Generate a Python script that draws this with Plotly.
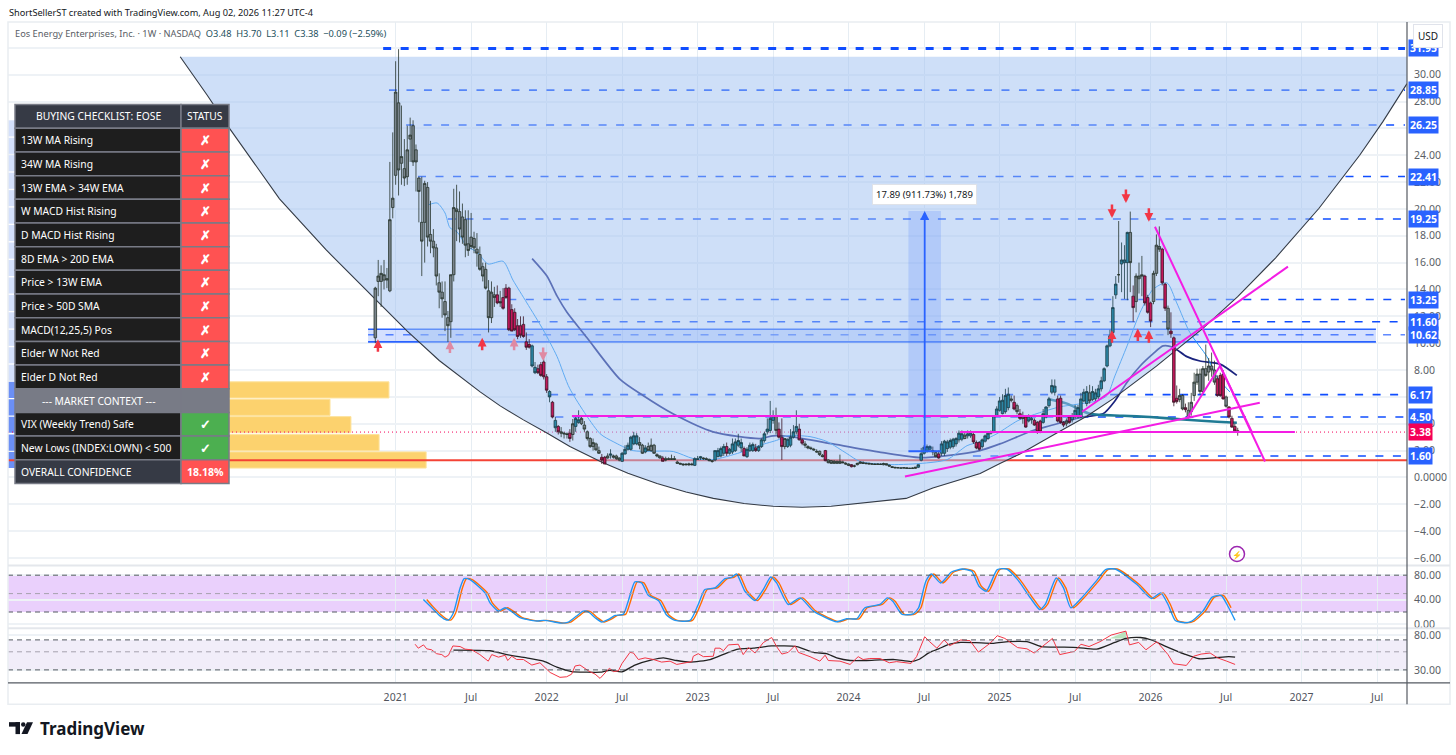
import plotly.graph_objects as go

W, H = 1456, 755

# weekly bars, first bar is week -7 (week 0 = first bar of 2021)
opens = [
    10.4, 14.6, 14.6, 14.7, 14.7, 13.9, 20.1, 22.5, 27.9, 23.4,
    23.0, 22.4, 25.2, 26.2, 24.4, 22.3, 19.0, 19.0, 21.6, 18.1,
    17.6, 17.1, 14.5, 13.8, 13.1, 11.9, 11.6, 15.1, 20.0, 19.8,
    19.4, 19.2, 17.4, 17.9, 17.8, 17.0, 16.6, 15.7, 15.5, 13.9,
    11.9, 13.6, 13.6, 13.1, 13.4, 14.1, 14.1, 12.5, 12.3, 11.3,
    11.3, 11.4, 10.1, 9.9, 9.8, 8.2, 8.1, 8.4, 8.6, 7.5,
    6.4, 5.6, 4.25, 3.8, 3.4, 3.3, 3.25, 3.3, 3.2, 3.8,
    4.1, 4.0, 3.9, 3.4, 2.9, 2.3, 2.5, 2.0, 1.5, 1.5,
    1.6, 1.65, 1.5, 1.6, 1.45, 1.2, 1.75, 2.1, 2.1, 2.5,
    2.5, 2.6, 2.4, 1.9, 2.3, 2.0, 2.4, 1.7, 1.6, 1.45,
    1.4, 1.4, 1.4, 1.4, 1.15, 1.05, 1.0, 1.0, 0.95, 1.0,
    0.9, 1.4, 1.55, 1.45, 1.4, 1.35, 1.25, 1.3, 1.55, 1.6,
    1.8, 2.3, 1.8, 1.9, 2.0, 2.4, 2.2, 2.15, 1.55, 2.0,
    2.0, 2.2, 2.0, 2.3, 2.75, 3.4, 3.5, 4.25, 4.6, 3.6,
    3.0, 2.3, 2.3, 2.4, 3.0, 3.4, 3.6, 2.8, 2.5, 2.3,
    2.2, 2.1, 1.95, 1.95, 1.65, 2.0, 1.3, 1.25, 1.2, 1.2,
    1.2, 1.15, 1.05, 1.0, 0.95, 0.85, 0.95, 1.05, 1.1, 1.05,
    1.05, 1.0, 1.0, 0.97, 1.0, 0.95, 1.03, 0.92, 0.8, 0.75,
    0.72, 0.7, 0.7, 0.72, 0.68, 0.7, 0.68, 0.76, 1.28, 1.8,
    1.95, 2.1, 1.9, 1.85, 1.75, 1.8, 1.8, 2.15, 2.25, 2.3,
    2.5, 2.8, 2.85, 2.9, 3.1, 3.1, 3.2, 2.6, 2.6, 2.3,
    2.7, 2.9, 3.3, 3.4, 4.6, 5.0, 4.75, 4.9, 5.2, 5.85,
    5.6, 5.35, 4.75, 4.5, 4.5, 4.5, 4.4, 4.25, 4.1, 4.2,
    4.1, 4.5, 5.35, 6.35, 6.35, 5.85, 5.9, 4.1, 4.0, 4.5,
    4.3, 4.5, 4.5, 4.5, 5.7, 5.5, 6.3, 5.8, 5.85, 6.0,
    6.6, 7.2, 8.3, 9.8, 10.8, 13.6, 15.1, 15.9, 16.0, 16.0,
    18.25, 13.5, 13.1, 14.8, 15.1, 15.0, 13.4, 13.0, 13.1, 15.2,
    17.2, 17.0, 14.4, 12.6, 10.9, 10.4, 5.9, 5.8, 6.1, 5.2,
    5.0, 4.9, 6.1, 7.1, 7.7, 6.4, 8.1, 7.85, 8.3, 8.0,
    7.35, 7.6, 7.7, 6.0, 5.25, 4.4, 3.8, 3.48,
]
highs = [
    14.2, 16.2, 15.8, 16.2, 15.6, 23.5, 25.7, 31.0, 31.9, 27.7,
    25.2, 26.2, 26.8, 26.6, 24.8, 22.4, 22.4, 22.1, 22.0, 20.6,
    18.5, 17.4, 15.2, 14.6, 14.6, 12.4, 15.1, 21.5, 21.8, 21.3,
    20.4, 19.9, 19.9, 19.7, 18.3, 18.2, 17.2, 16.0, 16.0, 14.7,
    14.6, 14.2, 14.3, 13.9, 14.1, 14.4, 14.2, 12.9, 12.6, 11.8,
    12.0, 12.0, 10.8, 10.3, 9.9, 8.6, 8.4, 8.6, 8.8, 7.7,
    6.5, 5.7, 4.5, 3.9, 3.75, 3.4, 3.35, 3.6, 4.35, 4.6,
    5.0, 4.6, 4.2, 3.5, 3.0, 2.9, 2.6, 2.3, 1.75, 1.6,
    1.8, 2.1, 1.7, 1.7, 1.5, 1.9, 2.4, 2.6, 3.1, 3.4,
    3.3, 3.0, 2.5, 2.4, 2.6, 2.9, 2.5, 1.8, 1.65, 1.6,
    1.55, 1.5, 1.7, 1.6, 1.25, 1.1, 1.05, 1.05, 1.1, 1.1,
    1.5, 1.6, 1.6, 1.5, 1.5, 1.4, 1.3, 2.0, 2.2, 2.3,
    2.5, 2.6, 2.2, 2.9, 2.9, 3.25, 2.9, 2.3, 2.25, 2.6,
    2.6, 2.5, 2.4, 2.9, 3.4, 4.4, 5.7, 5.0, 5.2, 4.1,
    4.4, 2.9, 2.9, 3.6, 3.9, 5.0, 4.0, 2.9, 2.7, 2.4,
    2.3, 2.2, 2.1, 2.0, 1.75, 2.05, 1.35, 1.3, 1.3, 1.25,
    1.7, 1.25, 1.15, 1.05, 1.0, 0.95, 1.1, 1.2, 1.2, 1.1,
    1.1, 1.05, 1.05, 1.03, 1.05, 1.1, 1.05, 0.95, 0.85, 0.8,
    0.78, 0.74, 0.75, 0.75, 0.72, 0.75, 0.78, 0.98, 2.2, 2.4,
    2.45, 2.4, 2.3, 2.0, 2.0, 2.7, 2.8, 2.8, 2.9, 2.95,
    3.0, 3.5, 3.5, 3.45, 3.5, 3.5, 3.3, 2.75, 2.7, 2.9,
    3.2, 3.4, 3.5, 4.6, 5.3, 6.0, 6.2, 6.6, 6.7, 6.1,
    6.1, 5.5, 5.1, 4.9, 4.6, 4.7, 4.5, 4.4, 4.2, 4.3,
    5.1, 5.3, 6.0, 7.3, 7.3, 6.1, 6.1, 4.2, 4.4, 4.6,
    4.8, 5.4, 5.4, 6.3, 6.6, 6.8, 6.9, 6.8, 6.6, 6.9,
    7.5, 8.2, 9.9, 11.0, 13.5, 15.0, 19.1, 17.5, 17.3, 18.3,
    19.8, 14.3, 15.2, 16.0, 16.5, 15.1, 13.6, 13.1, 15.4, 18.1,
    18.7, 17.1, 14.5, 12.8, 12.3, 10.5, 6.85, 6.6, 6.2, 5.5,
    5.6, 6.3, 7.8, 8.1, 8.1, 8.3, 9.9, 8.9, 9.3, 8.7,
    7.6, 7.8, 8.0, 6.1, 5.3, 4.6, 4.0, 3.70,
]
lows = [
    10.0, 13.5, 12.7, 14.0, 14.1, 13.8, 19.3, 21.8, 21.0, 21.8,
    21.7, 21.8, 23.5, 23.2, 21.3, 19.0, 15.0, 16.0, 17.2, 16.7,
    16.4, 14.3, 12.6, 11.9, 10.9, 10.1, 10.4, 14.6, 17.6, 17.5,
    17.4, 16.4, 16.5, 17.0, 16.7, 15.7, 15.4, 14.6, 14.0, 10.8,
    11.5, 12.7, 12.9, 12.7, 12.5, 13.3, 10.9, 10.9, 10.9, 10.3,
    10.4, 10.4, 9.5, 9.6, 8.2, 7.7, 7.7, 7.5, 7.3, 6.3,
    5.6, 4.4, 3.4, 3.2, 3.0, 2.9, 2.9, 2.65, 2.75, 3.4,
    4.0, 3.9, 3.4, 2.75, 2.2, 2.0, 2.0, 1.75, 1.0, 1.0,
    1.4, 1.4, 1.4, 1.3, 1.2, 1.15, 1.7, 2.0, 2.0, 2.4,
    2.4, 2.1, 1.75, 1.8, 2.0, 1.9, 1.75, 1.5, 1.4, 1.2,
    1.2, 1.3, 1.3, 1.3, 1.0, 0.95, 0.85, 0.9, 0.85, 0.9,
    0.85, 1.3, 1.3, 1.3, 1.3, 1.2, 1.1, 1.2, 1.5, 1.5,
    1.6, 1.6, 1.7, 1.75, 1.9, 2.25, 1.9, 1.6, 1.45, 1.9,
    1.9, 1.9, 1.9, 2.2, 2.6, 3.2, 3.3, 4.0, 3.2, 2.9,
    1.3, 2.1, 2.2, 2.25, 2.9, 3.2, 2.75, 2.4, 2.2, 2.1,
    2.05, 2.0, 1.85, 1.6, 1.5, 1.2, 1.05, 1.0, 1.0, 1.0,
    1.0, 1.05, 0.95, 0.85, 0.75, 0.75, 0.9, 1.0, 1.0, 0.95,
    1.0, 0.95, 0.95, 0.95, 0.93, 0.9, 0.9, 0.8, 0.7, 0.68,
    0.68, 0.67, 0.68, 0.66, 0.65, 0.64, 0.63, 0.7, 1.2, 1.7,
    1.85, 1.95, 1.65, 1.5, 1.4, 1.6, 1.6, 1.9, 2.1, 2.15,
    2.3, 2.6, 2.7, 2.85, 2.9, 2.95, 2.5, 2.1, 2.0, 2.15,
    2.6, 2.8, 3.2, 3.3, 4.5, 4.9, 4.7, 4.75, 5.0, 5.6,
    5.0, 4.7, 4.3, 4.0, 3.7, 4.1, 4.0, 3.85, 3.25, 3.3,
    4.0, 4.4, 5.2, 6.2, 6.1, 4.1, 4.0, 3.75, 3.8, 4.0,
    4.1, 4.4, 4.4, 4.4, 5.6, 5.3, 5.5, 5.7, 5.7, 5.8,
    6.4, 7.1, 8.2, 9.7, 10.7, 13.3, 14.5, 13.8, 13.3, 13.2,
    13.8, 11.6, 12.3, 13.7, 13.5, 12.8, 12.2, 11.2, 12.9, 15.0,
    16.8, 14.3, 12.4, 10.6, 10.4, 5.3, 5.5, 5.6, 5.0, 4.85,
    4.4, 4.6, 5.7, 6.9, 6.2, 6.2, 7.5, 7.2, 7.5, 6.9,
    6.0, 6.0, 5.8, 5.2, 4.4, 3.7, 3.4, 3.11,
]
closes = [
    14.1, 15.0, 15.2, 15.1, 14.8, 19.2, 20.8, 28.7, 22.9, 23.9,
    22.3, 24.4, 25.5, 23.5, 23.5, 21.3, 17.6, 21.9, 17.9, 17.6,
    17.1, 15.0, 13.8, 13.3, 12.1, 11.3, 15.1, 20.1, 19.8, 18.5,
    17.9, 17.3, 16.9, 17.2, 17.1, 16.7, 15.5, 15.0, 14.1, 11.9,
    13.8, 13.4, 13.0, 13.0, 12.6, 13.4, 11.0, 10.9, 11.0, 10.5,
    10.6, 10.5, 9.7, 9.7, 8.3, 7.8, 7.8, 7.6, 7.5, 6.5,
    6.0, 4.5, 3.7, 3.4, 3.3, 3.25, 3.2, 2.9, 4.0, 4.4,
    4.3, 4.4, 3.6, 2.9, 2.3, 2.6, 2.05, 1.8, 1.3, 1.0,
    1.45, 1.75, 1.6, 1.4, 1.3, 1.8, 2.1, 2.4, 3.0, 3.1,
    3.1, 2.4, 1.8, 2.2, 2.0, 2.4, 1.8, 1.6, 1.45, 1.2,
    1.3, 1.35, 1.35, 1.35, 1.05, 1.0, 0.95, 0.95, 1.0, 0.95,
    1.4, 1.35, 1.45, 1.4, 1.35, 1.25, 1.2, 2.0, 2.0, 2.15,
    2.3, 1.8, 2.1, 2.5, 2.65, 2.75, 2.6, 1.6, 2.1, 2.4,
    2.45, 2.0, 2.3, 2.8, 3.25, 3.6, 4.4, 4.6, 3.5, 3.0,
    2.3, 2.9, 2.85, 3.0, 3.4, 3.8, 2.8, 2.55, 2.4, 2.2,
    2.15, 2.05, 1.9, 1.7, 1.55, 1.25, 1.1, 1.05, 1.05, 1.05,
    1.05, 1.1, 1.0, 0.9, 0.8, 0.85, 1.05, 1.15, 1.05, 1.05,
    1.0, 1.0, 0.97, 1.0, 0.97, 1.03, 0.93, 0.85, 0.75, 0.72,
    0.72, 0.7, 0.72, 0.68, 0.68, 0.68, 0.76, 0.95, 1.77, 2.25,
    2.3, 2.3, 2.0, 1.55, 1.45, 2.5, 2.7, 2.65, 2.75, 2.85,
    2.9, 3.3, 3.25, 3.15, 3.25, 3.3, 2.65, 2.2, 2.1, 2.8,
    3.1, 3.3, 3.4, 4.6, 5.1, 5.7, 5.75, 6.1, 6.2, 5.75,
    5.1, 4.9, 4.4, 4.4, 3.75, 4.2, 4.3, 3.9, 3.4, 3.4,
    4.75, 5.25, 5.85, 6.85, 6.8, 4.2, 4.1, 3.9, 4.2, 4.1,
    4.6, 5.0, 5.2, 5.85, 6.35, 6.4, 5.7, 6.4, 6.3, 6.6,
    7.2, 8.1, 9.8, 10.55, 12.65, 14.4, 15.1, 16.2, 16.2, 18.25,
    16.0, 12.65, 15.0, 15.0, 15.0, 13.0, 12.3, 11.65, 15.2, 17.3,
    17.0, 14.5, 12.6, 11.05, 10.7, 5.6, 5.65, 6.1, 5.1, 5.05,
    4.5, 5.6, 7.1, 7.7, 6.4, 8.1, 7.6, 8.3, 8.0, 7.1,
    6.1, 6.1, 5.85, 5.3, 4.5, 3.75, 3.47, 3.38,
]
# k grey, r crimson, t teal, one letter per bar
bar_color = (
    "kkkkkkkkkk" "kkkkkkkkkk" "kkkkkkkkkk" "kkkkkkkkkk"
    "kkrkrrrrrr" "rrrrttrrrr" "trtrkkkrkt" "tkkkkkkkrr"
    "ktkkkttttt" "tkktkkkkkr" "kkkkkkkkkk" "tttkkkkttt"
    "trtttttrtt" "trttttttkr" "rkttttrrkk" "kkkkkrkkkk"
    "kkkkrkkkkk" "kkkkkkkkkk" "kkkkkkkttt" "ttkkrttttt"
    "tttkttrrrt" "tttttttttk" "rkrkrttrrr" "tttttrrrkr"
    "ttttttkttt" "ttttttkttt" "krkkkrrrkk" "krrkrrrkkr"
    "kkkkkkkkkk" "rrrkrrrr"
)
weeks = list(range(-7, len(closes) - 7))

tick_weeks = [0, 26, 52, 78, 104, 130, 156, 182, 208, 234, 260, 286, 312, 338]
tick_text = ["2021", "Jul", "2022", "Jul", "2023", "Jul", "2024", "Jul", "2025", "Jul", "2026", "Jul", "2027", "Jul"]

# 13 week and 34 week averages, and the thick teal line
ma13_week = [11.2, 14.3, 17, 18.7, 21.1, 24.6, 28, 31.8, 37, 40.4, 45.2, 50.8, 55.6, 60, 70.4, 74.9, 81.8, 95.6, 102.4, 109.3,
             118.6, 125.5, 131.7, 134.8, 142.7, 148.6, 155.4, 159.9, 169.2, 180.6, 189.9, 196.8, 201.3, 207.1, 214, 217.4,
             222.9, 228.8, 241.5, 245, 247.7, 251.9, 256.4, 260.8, 265.6, 269, 273.5, 279.4, 282.8, 287.3]
ma13_price = [20.3, 20.44, 19.7, 18.6, 18.3, 17.2, 16.8, 15.9, 16.1, 14.7, 13, 11, 9, 6.6, 3.26, 2.67, 2, 1.93, 1.41, 1.33,
              1.85, 2.4, 2.8, 3.1, 3.04, 2.67, 1.78, 1.19, 0.96, 1.04, 1.33, 2.37, 2.67, 3.26, 4.2, 4.5,
              4.9, 5.26, 5.7, 6.1, 7.56, 9.8, 12.3, 14, 14.5, 13, 10.8, 9, 7.5, 6.37]
ma34_week = [47, 52.1, 55.6, 59, 65.9, 77.3, 85.2, 95.5, 109.3, 125.5, 130, 135.8, 150.6, 167.8, 180.6, 189.9, 201.2, 208.1,
             219.5, 225.3, 236.7, 243.6, 247.7, 251.9, 256.4, 260.8, 264.3, 267.7, 272.5, 277, 283.9, 289.7]
ma34_price = [16.3, 15, 13.5, 12.3, 10.4, 7.3, 6.1, 4.74, 3.4, 2.9, 3.1, 3.04, 2.5, 1.85, 1.48, 1.63, 2.0, 2.5,
              3.5, 3.85, 4.5, 4.74, 5.7, 7.1, 8.3, 9.2, 9.8, 9.7, 9, 8.67, 8.44, 7.6]
teal_week = [224.7, 231.2, 239.1, 250.5, 259.8, 272.5, 282.9, 289.7]
teal_price = [5.85, 5.5, 4.74, 4.6, 4.5, 4.3, 4.15, 4.07]

# cup drawing
cup_week = [-74.2, -65, -57.7, -40, -24, -7.1, 3.9, 15, 29.1, 36, 44, 52.1, 60, 70.5, 80, 90, 100, 109.4, 120, 130, 140, 150, 160, 175.8,
            185, 196.1, 201.3, 208.1, 215, 227.7, 238, 247, 262, 278, 290, 303, 318, 332, 340, 348.3]
cup_price = [31.33, 28.5, 26.15, 20.75, 16.96, 13.26, 10.91, 8.71, 6.37, 5.33, 4.29, 3.31, 2.3, 1.19, 0.32, -0.45, -1.09, -1.56, -1.94, -2.15, -2.22, -2.15, -1.94, -1.56,
             -0.79, -0.07, 0.30, 1.04, 1.75, 3.31, 4.56, 5.85, 8.29, 11.1, 13.46, 16.34, 20.05, 24.0, 26.5, 29.33]

# horizontal levels and where each one starts
level_price = [31.95, 28.85, 26.25, 22.41, 19.25, 13.25, 11.60, 10.62, 6.17, 4.50, 1.60]
level_start = [-4.3, -2.3, 3.6, 7.7, 18, 38.8, 47, -9.5, 53.2, 55, 198.8]
level_end = 347.6
zone_top, zone_bottom, zone_start, zone_end = 11.04, 10.1, -9.5, 337.6
support_price = 1.28
last_price = 3.38

# magenta trend lines
trend_weeks = [[60.7, 236.4], [194.4, 309.7], [236.4, 307.3], [175.4, 297.6], [261.5, 299.4], [272.5, 283.9], [283.9, 294.9]]
trend_prices = [[4.58, 4.58], [3.38, 3.38], [4.89, 15.7], [0.07, 5.56], [18.67, 1.19], [4.37, 8.3], [8.3, 3.38]]

# arrows
up_week = [-6.1, 18.7, 29.8, 40.8, 246.7, 255.6, 259.4]
up_price = [10.3, 10.2, 10.4, 10.4, 10.96, 11.1, 10.96]
up_faded = [False, True, False, True, False, False, False]
down_week = [50.8, 246.7, 251.5, 259.4]
down_price = [8.67, 19.33, 20.44, 19.04]
down_faded = [True, False, False, False]

# long position tool
range_low, range_high = 1.96, 19.85
range_week = [176.6, 187.8]

# volume profile rows
vp_price = [1.3, 2.59, 3.93, 5.22, 6.52, 7.8, 9.1, 10.4, 11.7, 13, 14.3, 15.6, 16.9, 18.2, 19.5, 20.8, 22.1, 23.4, 24.7, 26]
vp_up = [20, 20, 20, 20, 20, 10, 10, 10, 10, 10, 10, 10, 10, 10, 10, 10, 10, 10, 10, 10]
vp_down = [124, 107.8, 98.1, 90.9, 111.2, 0, 0, 0, 0, 0, 0, 0, 0, 0, 0, 0, 0, 0, 0, 0]

# stochastic RSI pane
stoch_week = [9.55, 11.85, 14.7, 17, 18.2, 19.9, 22.2, 23.6, 25.6, 30.8, 32.5, 35.4, 37.7, 40.5, 42.8, 45.1, 48.6, 50.9, 54.3, 56.6,
              59.5, 62.3, 64.6, 66.4, 68.7, 71, 73.3, 75.6, 78.4, 80.1, 82.4, 84.7, 87, 90.5, 93.3, 96.2, 101.4, 104.2, 106.5, 110,
              113.4, 115.7, 117.4, 120.3, 123.8, 126.6, 129.2, 131.2, 135.2, 139.3, 143.9, 151.9, 155.3, 158.8, 161.6, 166.8,
              169.3, 171.2, 174.4, 178.2, 180.1, 182.6, 184.5, 187.7, 191.4, 195.2, 198.4, 200.9, 203.4, 207.2, 210.4, 214.2,
              218.6, 221.8, 223.7, 227.5, 230, 232.5, 235.7, 241.4, 244.5, 247.7, 255.3, 260.3, 263.5, 266, 268.5, 271.7, 274.2,
              278, 281.2, 284.3, 286.9, 289.1]
stoch_k = [40.4, 29.6, 16.1, 8, 6.9, 18.8, 59.3, 74.4, 72.8, 51.2, 35, 21.5, 26.9, 18.8, 10.7, 8, 5.3, 6.3, 4.2, 2,
           3.6, 13.4, 21.5, 20.4, 10.7, 3.6, 8, 14.4, 16.1, 37.7, 69, 67.4, 47.4, 38.7, 15, 6.3, 6.3, 32.3, 56.6, 59.3,
           74.4, 76.6, 82, 53.9, 38.7, 56.6, 77.1, 67.4, 32.3, 43.1, 21.5, 4.2, 9, 9, 26.9, 32.3,
           43.1, 37.7, 16, 17.1, 26.9, 70.1, 82, 67.4, 85.2, 90.1, 86.3, 62, 53.9, 89, 90.1, 72.8,
           43.1, 24.2, 32.3, 75.5, 59.3, 26.9, 40.4, 71.2, 89, 90.1, 64.7, 42, 51.2, 32.3, 6.3, 2.6, 5.2,
           21.5, 44.2, 46.9, 26.9, 6.3]
stoch_d_week = [10.7, 12.7, 15.5, 17.8, 19, 20.7, 23, 24.4, 26.4, 31.6, 33.3, 36.2, 38.5, 41.3, 43.6, 45.9, 49.4, 51.7, 55.1, 57.4,
                60.3, 63.1, 65.4, 67.2, 69.5, 71.8, 74.1, 76.4, 79.2, 80.9, 83.2, 85.5, 87.8, 91.3, 94.1, 97, 102.2, 105, 107.3, 110.8,
                114.2, 116.5, 118.2, 121.1, 124.6, 127.4, 130, 132, 136, 140.1, 144.7, 152.7, 156.1, 159.6, 162.4, 167.6,
                170.1, 172, 175.2, 179, 180.9, 183.4, 185.3, 188.5, 192.2, 196, 199.2, 201.7, 204.2, 208, 211.2, 215,
                219.4, 222.6, 224.5, 228.3, 230.8, 233.3, 236.5, 242.2, 245.3, 248.5, 256.1, 261.1, 264.3, 266.8, 269.3, 272.5, 275,
                278.8, 282, 285.1, 287.7]
stoch_d = [40.4, 29.6, 16.1, 8, 6.9, 18.8, 59.3, 74.4, 72.8, 51.2, 35, 21.5, 26.9, 18.8, 10.7, 8, 5.3, 6.3, 4.2, 2,
           3.6, 13.4, 21.5, 20.4, 10.7, 3.6, 8, 14.4, 16.1, 37.7, 69, 67.4, 47.4, 38.7, 15, 6.3, 6.3, 32.3, 56.6, 59.3,
           74.4, 76.6, 82, 53.9, 38.7, 56.6, 77.1, 67.4, 32.3, 43.1, 21.5, 4.2, 9, 9, 26.9, 32.3,
           43.1, 37.7, 16, 17.1, 26.9, 70.1, 82, 67.4, 85.2, 90.1, 86.3, 62, 53.9, 89, 90.1, 72.8,
           43.1, 24.2, 32.3, 75.5, 59.3, 26.9, 40.4, 71.2, 89, 90.1, 64.7, 42, 51.2, 32.3, 6.3, 2.6, 5.2,
           21.5, 44.2, 46.9, 26.9]

# RSI pane
rsi_week = [6.7, 7.8, 9.6, 10.7, 12.4, 14.1, 15.9, 17, 18.2, 19.7, 22.2, 23.9, 26.2, 29, 31.9, 33.1, 35.4, 37.7, 38.6, 40,
            41.7, 44, 46.9, 49.7, 53.2, 56.6, 58.9, 60.6, 61.8, 63.5, 66.4, 68.7, 70.4, 73.6, 75, 76.7, 77.9, 80.7, 81.9, 83.6,
            85.9, 88.8, 91.6, 94.5, 96.8, 100.2, 102, 102.5, 104.2, 106, 109.4, 110, 111.7, 112.9, 114.6, 118, 119.7, 121.5,
            123.8, 126.6, 129.5, 131.2, 133, 135.2, 137.5, 138.7, 142.7, 146.1, 147.9, 149, 153, 156.5, 159.3, 161, 163.3, 166.8,
            170, 172.5, 177.5, 179.4, 182.2, 183.9, 186.4, 188.9, 190.8, 194.6, 197.8, 200.7, 204.7, 207.2, 209.8, 214.2,
            217.4, 219.9, 223, 226.2, 228.7, 233.8, 236, 238.8, 242.6, 246.4, 251.5, 252.7, 255.9, 258.4, 262.2, 266, 267.9,
            272.3, 274.8, 277.4, 280.5, 283.1, 286.2, 289.1]
rsi_value = [61.9, 55.4, 60.8, 54.4, 52.9, 47.4, 46.2, 43, 45.4, 59, 58, 53.9, 52.9, 46.2, 38.4, 46.2, 43, 45.4, 39.1, 44.1,
             40.2, 40.2, 34.4, 36.7, 27.9, 24.3, 24.7, 26.6, 33.5, 34.4, 29.2, 26.6, 23.6, 31.4, 28.6, 29.2, 35.7, 49.2, 48.3, 40.2,
             42.1, 40.2, 37.4, 38.4, 35, 36.7, 37.9, 44.1, 47.4, 43.6, 44.1, 55.4, 55.4, 51.5, 60.8, 61.9, 46.2, 56.3,
             48.3, 64.8, 74.9, 58, 46.9, 49.2, 59.4, 49.2, 43.6, 38.4, 45.4, 39.1, 38.4, 35, 43.6, 40.2, 41.4, 41.4,
             36.7, 37.9, 36, 43.6, 76.5, 66.6, 55.4, 69.8, 59.4, 69.8, 68.5, 49.6, 63.6, 78.8, 73, 56.3,
             54.4, 48.3, 59.4, 73, 46.2, 50.6, 61.9, 58, 66.6, 80.2, 89.7, 60.8, 65.2, 52.9, 66.6, 46.2, 35.7,
             34, 44.1, 46.9, 48.3, 42.1, 38.4, 35]
rsi_ma_week = [19.9, 32.5, 38.3, 45.1, 50.9, 55.5, 60.6, 65.8, 70.4, 73.8, 77.9, 82.4, 88.2, 92.2, 96.8, 101.4, 108.3, 114, 118, 123.2,
               129.5, 138.1, 143.9, 148.4, 151.9, 156.5, 162.2, 166.8, 171.9, 177.5, 180.1, 183.9, 187, 190.8, 194.6, 199.7, 206, 211,
               217.4, 222.4, 228.7, 235, 241.4, 247.7, 251.5, 256.5, 260.3, 265.4, 271.7, 276.7, 281.8, 286.9, 289.1]
rsi_ma_value = [52.5, 51.5, 46.2, 42.1, 38.4, 32.4, 28.6, 28.1, 28.1, 29.7, 28.4, 34.4, 39.8, 42.1, 39.1, 37.4, 40.2, 48.3, 53.9, 55.4,
                59, 58, 49.2, 47.4, 42.1, 39.1, 39.1, 39.8, 40.2, 38, 40.2, 49.2, 54.4, 61.9, 65.2, 64.8, 63.6, 66.6,
                66.6, 58, 57.1, 56.3, 53.9, 65.2, 73, 74.9, 69.8, 58, 46.9, 41.1, 42.1, 43.6, 43.1]
rsi_green_week = [245.8, 248.5, 251.5, 251.5]
rsi_green_value = [73, 80, 89.7, 73]

# checklist table
check_labels = ["13W MA Rising", "34W MA Rising", "13W EMA > 34W EMA", "W MACD Hist Rising", "D MACD Hist Rising",
                "8D EMA > 20D EMA", "Price > 13W EMA", "Price > 50D SMA", "MACD(12,25,5) Pos", "Elder W Not Red",
                "Elder D Not Red", "--- MARKET CONTEXT ---", "VIX (Weekly Trend) Safe", "New Lows (INDEX:LOWN) < 500",
                "OVERALL CONFIDENCE"]
check_status = ["✗"] * 11 + [""] + ["✓", "✓"] + ["18.18%"]

FONT = "Noto Sans"
BLUE = "#2962ff"
X_RANGE = [-133.5, 348.3]


def fx(px):
    return px / W


def fy(py):
    return 1 - py / H


fig = go.Figure()

# volume profile sits at the very back
fig.add_trace(go.Bar(y=vp_price, x=vp_up, base=X_RANGE[0], orientation="h", width=1.2, hoverinfo="skip",
                     marker=dict(color=["#6b8ff5"] * 5 + ["#d4e0fb"] * 15, line_width=0)))
fig.add_trace(go.Bar(y=vp_price, x=vp_down, base=[X_RANGE[0] + v for v in vp_up], orientation="h", width=1.2, hoverinfo="skip",
                     marker=dict(color="#fcd26e", line=dict(color="#fde29a", width=1))))

# these go under the cup fill so they look washed out inside it
fig.add_trace(go.Scatter(x=X_RANGE, y=[last_price, last_price], mode="lines", hoverinfo="skip",
                         line=dict(color="#f50057", width=1, dash="1px,3px")))
fig.add_trace(go.Scatter(x=X_RANGE, y=[support_price, support_price], mode="lines", hoverinfo="skip",
                         line=dict(color="#f44336", width=2.2)))
fig.add_trace(go.Scatter(x=[zone_start, zone_end, zone_end, zone_start], y=[zone_top, zone_top, zone_bottom, zone_bottom],
                         fill="toself", fillcolor="rgba(41,98,255,0.2)", mode="none", hoverinfo="skip"))
for zone_price in [zone_top, zone_bottom]:
    fig.add_trace(go.Scatter(x=[zone_start, zone_end], y=[zone_price, zone_price], mode="lines", hoverinfo="skip",
                             line=dict(color=BLUE, width=1.6)))
for i, (price, start) in enumerate(zip(level_price, level_start)):
    width = 3 if i == 0 else 1 if price == 10.62 else 1.6
    fig.add_trace(go.Scatter(x=[start, level_end], y=[price, price], mode="lines", hoverinfo="skip",
                             line=dict(color="#0f4dff", width=width, dash="8px,9.5px")))
fig.add_trace(go.Scatter(x=ma34_week, y=ma34_price, mode="lines", hoverinfo="skip",
                         line=dict(color="#1a237e", width=1.7, shape="spline", smoothing=0.7)))
fig.add_trace(go.Scatter(x=ma13_week, y=ma13_price, mode="lines", hoverinfo="skip",
                         line=dict(color="#2196f3", width=1, shape="spline", smoothing=0.7)))
fig.add_trace(go.Scatter(x=teal_week, y=teal_price, mode="lines", hoverinfo="skip",
                         line=dict(color="#1f7a94", width=2.6, shape="spline", smoothing=0.7)))
fig.add_trace(go.Scatter(x=cup_week + [cup_week[-1], cup_week[0]], y=cup_price + [cup_price[0], cup_price[0]],
                         fill="toself", fillcolor="rgba(157,191,241,0.5)", mode="none", hoverinfo="skip"))
fig.add_trace(go.Scatter(x=cup_week, y=cup_price, mode="lines", hoverinfo="skip", line=dict(color="#333a45", width=1.1)))

# candles and drawings go on an overlay so they stay above the cup
bar_styles = {"k": ("#7a848c", "#26342c"), "r": ("#c2185b", "#3a1424"), "t": ("#2b86a6", "#1b3e48")}
for letter, (fill, edge) in bar_styles.items():
    idx = [i for i, c in enumerate(bar_color) if c == letter]
    fig.add_trace(go.Candlestick(
        x=[weeks[i] for i in idx], open=[opens[i] for i in idx], high=[highs[i] for i in idx],
        low=[lows[i] for i in idx], close=[closes[i] for i in idx],
        increasing=dict(fillcolor=fill, line=dict(color=edge, width=0.8)),
        decreasing=dict(fillcolor=fill, line=dict(color=edge, width=0.8)),
        whiskerwidth=0, hoverinfo="skip", xaxis="x4", yaxis="y4"))

fig.add_trace(go.Scatter(x=[range_week[0], range_week[1], range_week[1], range_week[0]],
                         y=[range_high, range_high, range_low, range_low], fill="toself",
                         fillcolor="rgba(41,98,255,0.17)", mode="none", hoverinfo="skip", xaxis="x4", yaxis="y4"))
fig.add_trace(go.Scatter(x=range_week, y=[range_low, range_low], mode="lines", hoverinfo="skip",
                         line=dict(color=BLUE, width=2), xaxis="x4", yaxis="y4"))
for tw, tp in zip(trend_weeks, trend_prices):
    fig.add_trace(go.Scatter(x=tw, y=tp, mode="lines", hoverinfo="skip", line=dict(color="#f41de4", width=2),
                             xaxis="x4", yaxis="y4"))

# stochastic pane
fig.add_trace(go.Scatter(x=stoch_d_week, y=stoch_d, mode="lines", hoverinfo="skip",
                         line=dict(color="#ff6d00", width=1.4, shape="spline", smoothing=0.6), xaxis="x2", yaxis="y2"))
fig.add_trace(go.Scatter(x=stoch_week, y=stoch_k, mode="lines", hoverinfo="skip",
                         line=dict(color="#2196f3", width=1.4, shape="spline", smoothing=0.6), xaxis="x2", yaxis="y2"))

# RSI pane
fig.add_trace(go.Scatter(x=rsi_green_week, y=rsi_green_value, fill="toself", fillcolor="#b9e4bd", mode="none",
                         hoverinfo="skip", xaxis="x3", yaxis="y3"))
fig.add_trace(go.Scatter(x=rsi_ma_week, y=rsi_ma_value, mode="lines", hoverinfo="skip",
                         line=dict(color="#222222", width=1.3, shape="spline", smoothing=0.6), xaxis="x3", yaxis="y3"))
fig.add_trace(go.Scatter(x=rsi_week, y=rsi_value, mode="lines", hoverinfo="skip",
                         line=dict(color="#f23645", width=1), xaxis="x3", yaxis="y3"))

grid = "#e6edf3"
main_ticks = list(range(-6, 34, 2))
hidden_ticks = [32, 26, 6]  # sit fully behind the price tags
main_labels = [("" if v in hidden_ticks else "0.0000" if v == 0 else f"{v:.2f}".replace("-", "−")) for v in main_ticks]
x_common = dict(range=X_RANGE, domain=[fx(8), fx(1407)], tickmode="array", tickvals=tick_weeks, showgrid=True, gridcolor=grid,
                gridwidth=1, zeroline=False, showline=False)
y_common = dict(side="right", showgrid=True, gridcolor="#eef2f6", gridwidth=1.5, zeroline=False, showline=False, ticks="outside",
                ticklen=4, tickcolor="rgba(0,0,0,0)", tickfont=dict(family=FONT, size=10.5, color="#5a5e66"))

fig.update_layout(
    width=W, height=H, margin=dict(l=0, r=0, t=0, b=0), autosize=False, showlegend=False, paper_bgcolor="white", plot_bgcolor="white",
    font=dict(family=FONT), barmode="overlay", boxgap=0.12, boxgroupgap=0,
    xaxis=dict(**x_common, anchor="y", showticklabels=False),
    xaxis2=dict(**x_common, anchor="y2", showticklabels=False),
    xaxis3=dict(**x_common, anchor="y3", ticktext=tick_text, ticks="outside", ticklen=5, tickcolor="rgba(0,0,0,0)",
                tickfont=dict(family=FONT, size=10.5, color="#50545c")),
    xaxis4=dict(range=X_RANGE, domain=[fx(8), fx(1407)], anchor="y4", overlaying="x", visible=False, rangeslider=dict(visible=False)),
    yaxis=dict(**y_common, domain=[fy(567), fy(21)], range=[-6.52, 33.93], anchor="x", tickmode="array", tickvals=main_ticks, ticktext=main_labels),
    yaxis2=dict(**y_common, domain=[fy(630), fy(568)], range=[-5.5, 95], anchor="x2", tickmode="array", tickvals=[0, 40, 80], ticktext=["0.00", "40.00", "80.00"]),
    yaxis3=dict(**y_common, domain=[fy(685), fy(631)], type="log", range=[1.324, 1.983], anchor="x3", tickmode="array", tickvals=[30, 80], ticktext=["30.00", "80.00"]),
    yaxis4=dict(domain=[fy(567), fy(21)], range=[-6.52, 33.93], anchor="x4", overlaying="y", visible=False),
)

shapes = []
# pane bands
shapes.append(dict(type="rect", xref="x2", yref="y2", x0=X_RANGE[0], x1=X_RANGE[1], y0=20, y1=80, layer="below",
                   fillcolor="rgba(190,110,245,0.32)", line_width=0))
shapes.append(dict(type="rect", xref="x3", yref="y3", x0=X_RANGE[0], x1=X_RANGE[1], y0=30, y1=70, layer="below",
                   fillcolor="rgba(149,117,205,0.13)", line_width=0))
for level, color in [(80, "#555a62"), (50, "#a6a2ae"), (20, "#555a62")]:
    shapes.append(dict(type="line", xref="x2", yref="y2", x0=X_RANGE[0], x1=X_RANGE[1], y0=level, y1=level,
                       line=dict(color=color, width=1, dash="5px,4px")))
for level, color in [(70, "#555a62"), (50, "#a6a2ae"), (30, "#555a62")]:
    shapes.append(dict(type="line", xref="x3", yref="y3", x0=X_RANGE[0], x1=X_RANGE[1], y0=level, y1=level,
                       line=dict(color=color, width=1, dash="5px,4px")))
# frame, pane separators and scale line
shapes.append(dict(type="rect", xref="paper", yref="paper", x0=fx(8), x1=fx(1450), y0=fy(707), y1=fy(21),
                   line=dict(color="#e9edf1", width=1.5)))
shapes.append(dict(type="line", xref="paper", yref="paper", x0=fx(8), x1=fx(1450), y0=fy(567.5), y1=fy(567.5),
                   line=dict(color="#e4e7ec", width=2)))
shapes.append(dict(type="line", xref="paper", yref="paper", x0=fx(8), x1=fx(1450), y0=fy(630.5), y1=fy(630.5),
                   line=dict(color="#e4e7ec", width=2)))
shapes.append(dict(type="line", xref="paper", yref="paper", x0=fx(8), x1=fx(1450), y0=fy(685.5), y1=fy(685.5),
                   line=dict(color="#555a62", width=1.2)))
shapes.append(dict(type="line", xref="paper", yref="paper", x0=fx(1407), x1=fx(1407), y0=fy(707), y1=fy(21),
                   line=dict(color="#555a62", width=1.2)))
# alert badge
shapes.append(dict(type="circle", xref="paper", yref="paper", x0=fx(1229.5), x1=fx(1244.5), y0=fy(563.5), y1=fy(548.5),
                   line=dict(color="#9c27b0", width=1.5), fillcolor="white"))
# logo
shapes.append(dict(type="rect", xref="paper", yref="paper", x0=fx(9), x1=fx(20), y0=fy(729.5), y1=fy(725), fillcolor="#131722", line_width=0))
shapes.append(dict(type="rect", xref="paper", yref="paper", x0=fx(15.5), x1=fx(20), y0=fy(737), y1=fy(725), fillcolor="#131722", line_width=0))
shapes.append(dict(type="circle", xref="paper", yref="paper", x0=fx(21), x1=fx(25.5), y0=fy(729.5), y1=fy(725), fillcolor="#131722", line_width=0))
shapes.append(dict(type="path", xref="paper", yref="paper", fillcolor="#131722", line_width=0,
                   path=f"M {fx(21.5)} {fy(737)} L {fx(27)} {fy(725)} L {fx(33)} {fy(725)} L {fx(27.5)} {fy(737)} Z"))


def label(px, py, text, size, color, anchor="left"):
    return dict(xref="paper", yref="paper", x=fx(px), y=fy(py), text=text, font=dict(size=size, color=color),
                xanchor=anchor, yanchor="middle", showarrow=False)


gap = "\u00a0\u00a0"
notes = [
    label(7, 12, "ShortSellerST created with TradingView.com, Aug 02, 2026 11:27 UTC-4", 9.2, "#131722"),
    label(13, 33, "<span style='color:#5a5e66'>Eos Energy Enterprises, Inc. · 1W · NASDAQ</span>"
                  f"<span style='color:#1c4f5c'>{gap}O3.48{gap}H3.70{gap}L3.11{gap}C3.38{gap}−0.09 (−2.59%)</span>", 9.25, "#5a5e66"),
    label(38, 731, "<b>TradingView</b>", 17, "#131722"),
    label(1237, 556, "⚡", 8, "#e91e63", "center"),
    dict(x=sum(range_week) / 2, y=21.04, xref="x4", yref="y4", text="17.89 (911.73%) 1,789", showarrow=False,
         font=dict(size=9.5, color="#131722"), bgcolor="white", bordercolor="#dfe2e8", borderwidth=1, borderpad=3),
    dict(x=sum(range_week) / 2, y=range_high, ax=sum(range_week) / 2, ay=range_low, xref="x4", yref="y4", axref="x4", ayref="y4",
         text="", showarrow=True, arrowhead=2, arrowsize=1, arrowwidth=1.8, arrowcolor=BLUE),
]
for w, p, faded in zip(up_week, up_price, up_faded):
    notes.append(dict(x=w, y=p, xref="x4", yref="y4", ax=0, ay=14, text="", showarrow=True, arrowhead=2, arrowsize=0.7, arrowwidth=2.5,
                      arrowcolor="#df8aa3" if faded else "#f23645"))
for w, p, faded in zip(down_week, down_price, down_faded):
    notes.append(dict(x=w, y=p, xref="x4", yref="y4", ax=0, ay=-15, text="", showarrow=True, arrowhead=2, arrowsize=0.7, arrowwidth=2.5,
                      arrowcolor="#df8aa3" if faded else "#f23645"))

# checklist panel
border = dict(color="#787b86", width=1.5)
for col_left, col_right, head, center in [(15, 181, "BUYING CHECKLIST: EOSE", 98), (181, 229, "STATUS", 205)]:
    shapes.append(dict(type="rect", xref="paper", yref="paper", x0=fx(col_left), x1=fx(col_right), y0=fy(128), y1=fy(104),
                       fillcolor="#363a45", line=border))
    notes.append(label(center, 116, head, 10.3, "white", "center"))
status_fill = ["#ff5252"] * 11 + ["#787b86"] + ["#4caf50"] * 2 + ["#ff5252"]
label_fill = ["#1e1e1e"] * 11 + ["#787b86"] + ["#1e1e1e"] * 2 + ["#363a45"]
for i, (text, status) in enumerate(zip(check_labels, check_status)):
    top = 128 + 23.8 * i
    shapes.append(dict(type="rect", xref="paper", yref="paper", x0=fx(15), x1=fx(181), y0=fy(top + 23.8), y1=fy(top),
                       fillcolor=label_fill[i], line=border))
    shapes.append(dict(type="rect", xref="paper", yref="paper", x0=fx(181), x1=fx(229), y0=fy(top + 23.8), y1=fy(top),
                       fillcolor=status_fill[i], line=border))
    if text.startswith("---"):
        notes.append(label(98, top + 12, text, 10.3, "white", "center"))
    else:
        notes.append(label(19, top + 12, text, 10.3, "white"))
    if status:
        notes.append(label(205, top + 12, f"<b>{status}</b>", 10.5 if i == 14 else 13, "white", "center"))

# price tags on the scale
for price in level_price:
    notes.append(dict(xref="paper", yref="y", x=fx(1408), y=price, xanchor="left", text=f"<b>{price:.2f}</b>", showarrow=False,
                      font=dict(size=10.5, color="white"), bgcolor=BLUE, borderpad=1))
notes.append(dict(xref="paper", yref="y", x=fx(1408), y=last_price, xanchor="left", text=f"<b>{last_price:.2f}</b>", showarrow=False,
                  font=dict(size=10.5, color="white"), bgcolor="#f50057", borderpad=1))
usd = label(1427.5, 35, "USD", 10, "#131722", "center")
usd.update(bgcolor="white", bordercolor="#e0e3eb", borderwidth=1, borderpad=4)
notes.append(usd)
fig.update_layout(shapes=shapes, annotations=notes)

fig.write_html("out.html", config={"displayModeBar": False},
               post_script="document.body.style.margin='0';document.body.style.overflow='hidden';")
